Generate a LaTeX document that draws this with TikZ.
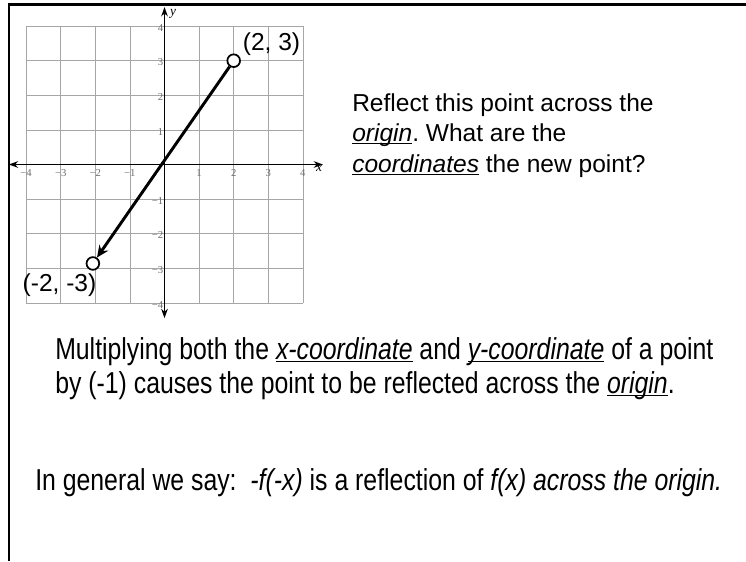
\documentclass[tikz,border=0pt]{standalone}
\usepackage{fontspec}
\setmainfont{Liberation Sans}
\newfontfamily\narrowsans[FakeStretch=0.82]{Liberation Sans}
\newfontfamily\tickserif{Liberation Serif}
\usetikzlibrary{arrows.meta}
\definecolor{slidegrid}{HTML}{A6A6A6}
\definecolor{slidetick}{HTML}{6E6E6E}
\newcommand{\undit}[1]{\setbox0\hbox{\itshape #1}\rlap{\rule[-2.2pt]{\wd0}{1pt}}\box0\relax}
\frenchspacing

\begin{document}
\begin{tikzpicture}[x=0.75pt,y=-0.75pt,
  gridln/.style={draw=slidegrid,line width=0.6pt},
  axisln/.style={line width=1pt,{Stealth[length=7pt,width=5pt]}-{Stealth[length=7pt,width=5pt]}},
  ticklab/.style={font=\tickserif\fontsize{8}{8}\selectfont,text=slidetick,inner sep=0pt},
  axislab/.style={font=\tickserif\itshape\fontsize{10}{10}\selectfont,inner sep=0pt},
  ptdot/.style={circle,draw=black,line width=1.3pt,fill=white,minimum size=9.5pt,inner sep=0pt},
  ptlab/.style={font=\fontsize{18.4}{22}\selectfont,inner sep=0pt},
  asktext/.style={font=\fontsize{18.4}{22}\selectfont,anchor=base west,inner sep=0pt},
  ruletext/.style={font=\narrowsans\fontsize{22.7}{26}\selectfont,anchor=base west,inner sep=0pt}
]
\useasboundingbox (0,0) rectangle (746,561);
\draw[line width=2.2pt] (746,4.5) -- (9,4.5) -- (9,561);

% coordinate plane
\begin{scope}[shift={(164.5,164.5)},x=25.95pt,y=25.95pt]
  \foreach \k in {-4,...,4} {
    \draw[gridln] (\k,-4) -- (\k,4);
    \draw[gridln] (-4,\k) -- (4,\k);
  }
  \foreach \k in {1,...,4} {
    \node[ticklab] (xp\k) at (\k,-0.24) {\k};
    \node[ticklab] (xn\k) at (-\k,-0.24) {−\k};
    \node[ticklab,anchor=east] (yp\k) at (-0.03,\k-0.05) {\k};
    \node[ticklab,anchor=east] (yn\k) at (-0.03,-\k-0.05) {−\k};
  }
  \draw[axisln] (-4.5,0) -- (4.58,0);
  \draw[axisln] (0,-4.44) -- (0,4.55);
  \node[axislab] (xlab) at (4.47,-0.12) {x};
  \node[axislab] (ylab) at (0.25,4.35) {y};
  % the point and its reflection
  \node[ptdot] (p23) at (2,3) {};
  \node[ptdot] (pm23) at (-2.07,-2.86) {};
  \draw[line width=2.2pt,-{Stealth[length=9pt,width=8pt]}] (p23) -- (pm23);
\end{scope}

\node[ptlab] (lab23) at (271.5,44) {(2, 3)};
\node[ptlab] (labm23) at (59.5,285) {(-2, -3)};

\node[asktext] (ask1) at (352,111) {Reflect this point across the};
\node[asktext] (ask2) at (352,141.5) {\undit{origin}. What are the};
\node[asktext] (ask3) at (352,172) {\undit{coordinates} the new point?};

\node[ruletext] (rule1) at (55,359) {Multiplying both the \undit{x-coordinate} and \undit{y-coordinate} of a point};
\node[ruletext] (rule2) at (55,393) {by (-1) causes the point to be reflected across the \undit{origin}.};
\node[ruletext] (general) at (35,490) {In general we say:\ \ \textit{-f(-x)} is a reflection of \textit{f(x) across the origin.}};
\end{tikzpicture}
\end{document}
